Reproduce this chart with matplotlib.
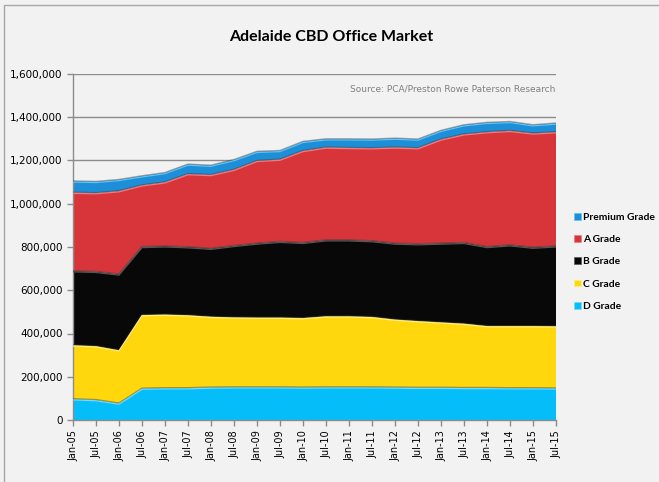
import matplotlib
matplotlib.use("Agg")
import matplotlib.pyplot as plt
from matplotlib.patches import Patch, Rectangle
import numpy as np

periods = ["Jan-05", "Jul-05", "Jan-06", "Jul-06", "Jan-07", "Jul-07", "Jan-08", "Jul-08",
           "Jan-09", "Jul-09", "Jan-10", "Jul-10", "Jan-11", "Jul-11", "Jan-12", "Jul-12",
           "Jan-13", "Jul-13", "Jan-14", "Jul-14", "Jan-15", "Jul-15"]

d_grade = [97000, 93000, 77000, 146000, 148000, 148000, 151000, 152000, 152000, 152000, 151000,
           152000, 152000, 152000, 151000, 150000, 150000, 149000, 149000, 148000, 148000, 147000]
c_grade = [249000, 249000, 246000, 340000, 340000, 337000, 327000, 323000, 322000, 322000, 321000,
           328000, 328000, 325000, 314000, 308000, 302000, 297000, 286000, 287000, 287000, 287000]
b_grade = [343000, 344000, 351000, 315000, 316000, 315000, 315000, 331000, 343000, 351000, 348000,
           352000, 352000, 351000, 352000, 356000, 365000, 374000, 366000, 374000, 363000, 370000]
a_grade = [363000, 364000, 385000, 285000, 296000, 338000, 341000, 352000, 382000, 380000, 425000,
           429000, 427000, 430000, 444000, 444000, 481000, 502000, 531000, 529000, 528000, 528000]
premium_grade = [52000, 52000, 52000, 42000, 43000, 44000, 43000, 45000, 42000, 40000, 42000,
                 38000, 40000, 40000, 41000, 40000, 40000, 42000, 43000, 41000, 38000, 40000]

series_names = ["D Grade", "C Grade", "B Grade", "A Grade", "Premium Grade"]
series_colors = ["#05bdf8", "#ffd70c", "#080808", "#d8353a", "#1c8fd8"]
edge_colors = ["#6fdcff", "#fff07a", "#555555", "#f27b80", "#62c2f5"]

BG = "#f2f2f2"
fig = plt.figure(figsize=(6.59, 4.82), dpi=100, facecolor=BG)
W, H = 659, 482
ax = fig.add_axes([73 / W, (H - 420) / H, 483 / W, 346 / H])
ax.set_facecolor(BG)

x = np.arange(len(periods))
data = [d_grade, c_grade, b_grade, a_grade, premium_grade]
ax.set_axisbelow(True)
ax.yaxis.grid(True, color="#8c8c8c", linewidth=1.0)
ax.stackplot(x, *data, colors=series_colors, labels=series_names,
             edgecolor="none", zorder=2)
cum = np.cumsum(np.array(data, dtype=float), axis=0)
for i in range(len(data)):
    ax.plot(x, cum[i], color="#3a3a3a", linewidth=1.4, alpha=0.45, zorder=3)
    ax.plot(x, cum[i] - 4000, color=edge_colors[i], linewidth=0.9, zorder=3)

ax.set_xlim(0, len(periods) - 1)
ax.set_ylim(0, 1600000)
ax.set_yticks(np.arange(0, 1600001, 200000))
ax.set_yticklabels([f"{v:,}" for v in range(0, 1600001, 200000)], fontsize=7.5,
                   fontfamily="DejaVu Sans")
ax.set_xticks(x)
ax.set_xticklabels(periods, rotation=90, fontsize=7, fontfamily="DejaVu Sans")
for s in ["top", "right"]:
    ax.spines[s].set_visible(False)
for s in ["left", "bottom"]:
    ax.spines[s].set_color("#8c8c8c")
    ax.spines[s].set_linewidth(1.0)
ax.tick_params(axis="both", colors="#8c8c8c", labelcolor="black", length=4, width=1.0)

fig.text(331 / W, 1 - 37 / H, "Adelaide CBD Office Market", ha="center", va="center",
         fontsize=11.5, fontweight="bold", fontfamily="Lato")
ax.text(555 / W, 1 - 89 / H, "Source: PCA/Preston Rowe Paterson Research",
        transform=fig.transFigure, ha="right", va="center", fontsize=6.5,
        color="#808080", fontfamily="DejaVu Sans")

handles = [Patch(facecolor=series_colors[i], edgecolor=edge_colors[i], linewidth=0.5)
           for i in [4, 3, 2, 1, 0]]
labels = [series_names[i] for i in [4, 3, 2, 1, 0]]
fig.legend(handles, labels, loc="upper left", bbox_to_anchor=(574 / W, 1 - 213 / H),
           frameon=False, prop={"family": "Lato", "weight": "bold", "size": 7.4},
           handlelength=0.65, handleheight=0.65, handletextpad=0.25,
           labelspacing=1.28, borderaxespad=0, borderpad=0)

fig.patches.append(Rectangle((4 / W, -10 / H), 700 / W, 487 / H, transform=fig.transFigure,
                             fill=False, edgecolor="#a6a6a6", linewidth=1.0))

fig.savefig("out.png", dpi=100, facecolor=BG)
